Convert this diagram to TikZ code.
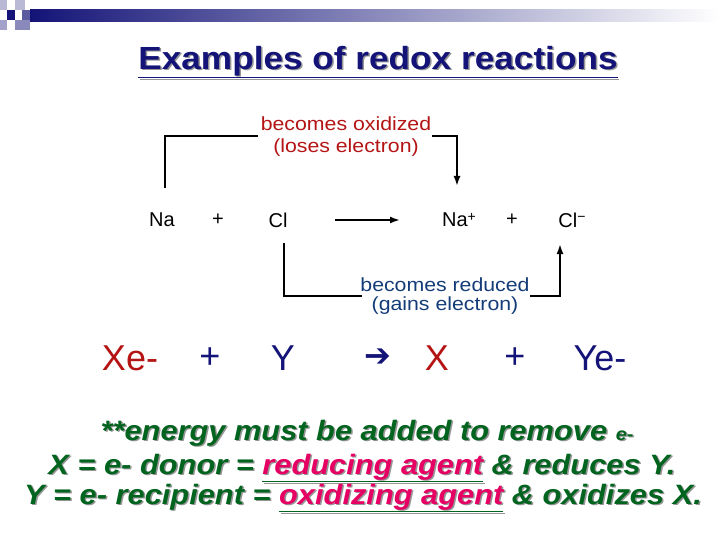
\documentclass[tikz,border=0pt]{standalone}
\usepackage{fontspec}
\setmainfont{Liberation Sans}
\newfontfamily\djvfont{DejaVu Sans}
\usetikzlibrary{arrows.meta}
\definecolor{navy}{RGB}{20,20,120}
\definecolor{tred}{RGB}{180,20,20}
\definecolor{tblue}{RGB}{20,60,120}
\definecolor{tgreen}{RGB}{0,100,30}
\definecolor{tpink}{RGB}{230,0,100}
\definecolor{shd}{RGB}{150,150,150}
\newcommand{\ul}[2]{\underline{\textcolor{#1}{#2}}}
\begin{document}
\begin{tikzpicture}[x=1pt,y=-1pt,
  lbl/.style={font=\fontsize{19}{21}\selectfont, inner sep=0pt, xscale=1.12},
  eq/.style={font=\fontsize{20}{22}\selectfont, inner sep=0pt},
  big/.style={font=\fontsize{36}{38}\selectfont, inner sep=0pt},
  gr/.style={font=\fontsize{28}{30}\selectfont\bfseries\itshape, inner sep=0pt, text=tgreen, xscale=1.1},
  grs/.style={gr, text=shd},
  ttl/.style={font=\fontsize{32}{34}\selectfont\bfseries, inner sep=0pt, xscale=1.1},
  con/.style={line width=1.8pt},
  tip/.style={-{Latex[length=10pt,width=7pt]}}]
\useasboundingbox (0,0) rectangle (720,540);
% header
\shade[left color=navy, right color=white] (30,10) rectangle (720,22);
\fill[navy] (7,10) rectangle (15,20);
\fill[navy!30] (0,0) rectangle (7,10);
\fill[navy!30] (15,0) rectangle (25,10);
\fill[navy!50] (15,20) rectangle (30,30);
\fill[navy!40] (0,20) rectangle (7,30);
\fill[navy!70] (22,10) rectangle (30,20);
% title
\node[ttl, text=shd] at (379.5,63.5) {\underline{Examples of redox reactions}};
\node[ttl, text=navy] (title) at (378,62) {\underline{Examples of redox reactions}};
% labels
\node[lbl, text=tred] (ox1) at (346,124) {becomes oxidized};
\node[lbl, text=tred] (ox2) at (346,148) {(loses electron)};
\node[lbl, text=tblue] (rd1) at (445,285) {becomes reduced};
\node[lbl, text=tblue] (rd2) at (445,306) {(gains electron)};
% equation
\node[eq] (na) at (162,220) {Na};
\node[eq] (p1) at (218,220) {+};
\node[eq] (cl) at (278,220) {Cl};
\node[eq] (nap) at (459,220) {Na\raisebox{0.5ex}{\fontsize{14}{14}\selectfont+}};
\node[eq] (p2) at (512,220) {+};
\node[eq] (clm) at (572,220) {Cl\raisebox{0.5ex}{\fontsize{14}{14}\selectfont−}};
\coordinate (a1) at (335,220);
\coordinate (a2) at (400,220);
\draw[con, tip] (a1) -- (a2);
\coordinate (u1) at (165,188);
\coordinate (u2) at (258,136);
\coordinate (u3) at (432,136);
\coordinate (u4) at (457,186);
\draw[con] (u1) |- (u2);
\draw[con, tip] (u3) -| (u4);
\coordinate (d1) at (284,243);
\coordinate (d2) at (362,296);
\coordinate (d3) at (530,296);
\coordinate (d4) at (560,244);
\draw[con] (d1) |- (d2);
\draw[con, tip] (d3) -| (d4);
% generic equation
\node[big, text=tred] (xe) at (130,358) {Xe-};
\node[big, text=navy] (p3) at (210,358) {+};
\node[big, text=navy] (y) at (283,358) {Y};
\node[font=\djvfont\fontsize{32}{34}\selectfont, inner sep=0pt, text=navy] (arr) at (378,358) {➔};
\node[big, text=tred] (x) at (437,358) {X};
\node[big, text=navy] (p4) at (515,358) {+};
\node[big, text=navy] (ye) at (600,358) {Ye-};
% bottom text
\node[grs] at (368.5,434.5) {**energy must be added to remove {\fontsize{18}{20}\selectfont e-}};
\node[gr] (l1) at (367,433) {**energy must be added to remove {\fontsize{18}{20}\selectfont e-}};
\node[grs] at (363.5,469.5) {X = e- donor = \underline{reducing agent} \& reduces Y.};
\node[gr] (l2) at (362,468) {X = e- donor = \ul{tpink}{reducing agent} \& reduces Y.};
\node[grs] at (364.5,499.5) {Y = e- recipient = \underline{oxidizing agent} \& oxidizes X.};
\node[gr] (l3) at (363,498) {Y = e- recipient = \ul{tpink}{oxidizing agent} \& oxidizes X.};
\end{tikzpicture}
\end{document}
